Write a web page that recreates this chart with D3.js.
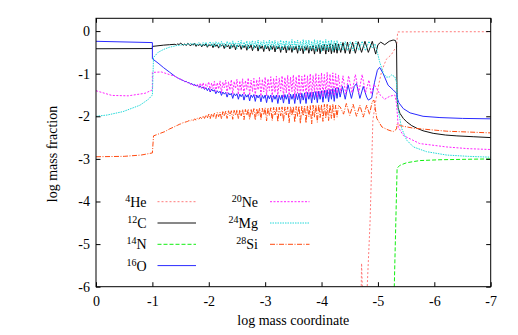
<!DOCTYPE html>
<html>
<head>
<meta charset="utf-8">
<script src="https://cdn.jsdelivr.net/npm/d3@7"></script>
<style>
body { margin: 0; background: #fff; }
text { font-family: "Liberation Serif", "DejaVu Serif", serif; fill: #000; }
</style>
</head>
<body>
<svg width="518" height="335"></svg>
<script>
// shared mass-coordinate grid for the noisy envelope zone (-1.4 .. -4.3)
var gridX = [-1.400,-1.425,-1.450,-1.475,-1.500,-1.525,-1.550,-1.575,-1.600,-1.625,
  -1.650,-1.675,-1.700,-1.725,-1.750,-1.775,-1.800,-1.825,-1.850,-1.875,
  -1.900,-1.925,-1.950,-1.975,-2.000,-2.025,-2.050,-2.075,-2.100,-2.125,
  -2.150,-2.175,-2.200,-2.225,-2.250,-2.275,-2.300,-2.325,-2.350,-2.375,
  -2.400,-2.425,-2.450,-2.475,-2.500,-2.525,-2.550,-2.575,-2.600,-2.625,
  -2.650,-2.675,-2.700,-2.725,-2.750,-2.775,-2.800,-2.825,-2.850,-2.875,
  -2.900,-2.925,-2.950,-2.975,-3.000,-3.025,-3.050,-3.075,-3.100,-3.125,
  -3.150,-3.175,-3.200,-3.225,-3.250,-3.275,-3.300,-3.325,-3.350,-3.375,
  -3.400,-3.425,-3.450,-3.475,-3.500,-3.525,-3.550,-3.575,-3.600,-3.625,
  -3.650,-3.675,-3.700,-3.725,-3.750,-3.775,-3.800,-3.825,-3.850,-3.875,
  -3.900,-3.925,-3.950,-3.975,-4.000,-4.025,-4.050,-4.075,-4.100,-4.125,
  -4.150,-4.175,-4.200,-4.225,-4.250,-4.275,-4.300];

var xTicks = [0,-1,-2,-3,-4,-5,-6,-7];
var yTicks = [0,-1,-2,-3,-4,-5,-6];

var heliumPts = [[-4.60,-7.0],[-4.70,-6.3],[-4.71,-5.45],[-4.73,-6.3],[-4.77,-7.0],[-4.80,-6.3],
  [-4.86,-4.5],[-4.89,-3.1],[-4.91,-2.1],[-4.95,-1.73],[-5.00,-1.34],[-5.07,-0.92],[-5.15,-0.66],
  [-5.24,-0.55],[-5.30,-0.42],[-5.33,-0.38],[-5.35,-0.02],[-6.0,-0.015],[-7.0,-0.015]];

var carbonHead = [[0,-0.415],[-1.0,-0.41],[-1.0,-0.36],[-1.2,-0.33],[-1.3,-0.32]];
var carbonNoise = [-0.31,-0.33,-0.30,-0.32,-0.28,-0.31,-0.33,-0.30,-0.34,-0.29,
  -0.31,-0.35,-0.30,-0.33,-0.29,-0.36,-0.31,-0.34,-0.30,-0.37,
  -0.31,-0.35,-0.30,-0.38,-0.32,-0.34,-0.31,-0.39,-0.30,-0.36,
  -0.32,-0.40,-0.31,-0.35,-0.32,-0.41,-0.31,-0.37,-0.33,-0.42,
  -0.32,-0.38,-0.31,-0.44,-0.33,-0.37,-0.32,-0.43,-0.33,-0.39,
  -0.32,-0.45,-0.33,-0.40,-0.32,-0.46,-0.34,-0.39,-0.33,-0.47,
  -0.33,-0.41,-0.34,-0.48,-0.33,-0.42,-0.35,-0.47,-0.34,-0.43,
  -0.33,-0.49,-0.35,-0.42,-0.34,-0.50,-0.35,-0.44,-0.34,-0.51,
  -0.35,-0.45,-0.34,-0.50,-0.36,-0.44,-0.35,-0.52,-0.34,-0.46,
  -0.35,-0.53,-0.36,-0.45,-0.34,-0.52,-0.35,-0.47,-0.33,-0.54,
  -0.34,-0.48,-0.32,-0.53,-0.34,-0.46,-0.31,-0.54,-0.33,-0.49,
  -0.30,-0.53,-0.32,-0.50,-0.29,-0.52,-0.30];
var carbonTail = [[-4.34,-0.50],[-4.38,-0.27],[-4.42,-0.52],[-4.46,-0.26],[-4.50,-0.53],[-4.55,-0.26],
  [-4.60,-0.52],[-4.65,-0.25],[-4.71,-0.50],[-4.77,-0.24],[-4.83,-0.50],[-4.90,-0.24],[-4.96,-0.54],
  [-5.00,-0.32],[-5.05,-0.26],[-5.12,-0.32],[-5.20,-0.24],[-5.27,-0.21],[-5.31,-0.22],[-5.33,-0.30],
  [-5.34,-1.60],[-5.36,-1.81],[-5.39,-1.93],[-5.45,-2.05],[-5.51,-2.13],[-5.60,-2.22],[-5.69,-2.28],
  [-5.80,-2.34],[-5.98,-2.40],[-6.20,-2.44],[-6.40,-2.46],[-6.70,-2.48],[-7.0,-2.50]];

var nitrogenPts = [[-5.28,-7.0],[-5.29,-6.0],[-5.34,-3.22],[-5.39,-3.15],[-5.51,-3.09],
  [-5.74,-3.04],[-6.10,-3.02],[-7.0,-3.00]];

var oxygenHead = [[0,-0.24],[-1.0,-0.27],[-1.0,-0.65],[-1.1,-0.75],[-1.2,-0.86],[-1.3,-0.96]];
var oxygenNoise = [-1.06,-1.08,-1.10,-1.12,-1.13,-1.15,-1.16,-1.19,-1.18,-1.21,
  -1.21,-1.24,-1.23,-1.27,-1.25,-1.29,-1.27,-1.32,-1.29,-1.34,
  -1.31,-1.37,-1.33,-1.40,-1.34,-1.43,-1.36,-1.41,-1.38,-1.47,
  -1.40,-1.45,-1.41,-1.51,-1.43,-1.48,-1.44,-1.55,-1.45,-1.50,
  -1.46,-1.58,-1.47,-1.52,-1.47,-1.60,-1.48,-1.54,-1.48,-1.62,
  -1.49,-1.55,-1.49,-1.64,-1.50,-1.56,-1.49,-1.65,-1.50,-1.57,
  -1.50,-1.66,-1.51,-1.58,-1.50,-1.68,-1.51,-1.59,-1.50,-1.67,
  -1.51,-1.60,-1.50,-1.70,-1.51,-1.61,-1.50,-1.69,-1.49,-1.60,
  -1.49,-1.71,-1.48,-1.60,-1.48,-1.70,-1.47,-1.61,-1.46,-1.70,
  -1.46,-1.62,-1.45,-1.70,-1.44,-1.60,-1.44,-1.69,-1.43,-1.61,
  -1.42,-1.68,-1.41,-1.60,-1.40,-1.67,-1.39,-1.58,-1.38,-1.66,
  -1.37,-1.60,-1.35,-1.65,-1.34,-1.58,-1.33];
var oxygenTail = [[-4.33,-1.55],[-4.37,-1.30],[-4.42,-1.60],[-4.47,-1.26],[-4.53,-1.58],[-4.58,-1.30],
  [-4.62,-1.23],[-4.68,-1.58],[-4.74,-1.30],[-4.80,-1.55],[-4.83,-1.62],[-4.89,-1.57],[-4.94,-1.20],
  [-4.99,-0.92],[-5.03,-0.85],[-5.09,-0.99],[-5.18,-1.27],[-5.27,-1.38],[-5.33,-1.46],[-5.35,-1.60],
  [-5.37,-1.68],[-5.45,-1.82],[-5.57,-1.92],[-5.80,-2.00],[-6.10,-2.03],[-6.50,-2.05],[-7.0,-2.06]];

var neonHead = [[0,-1.40],[-0.28,-1.51],[-0.57,-1.52],[-0.87,-1.46],[-1.0,-1.38],[-1.0,-0.97],
  [-1.16,-0.96],[-1.30,-1.02]];
var neonNoise = [-1.06,-1.08,-1.10,-1.12,-1.13,-1.15,-1.16,-1.18,-1.19,-1.21,
  -1.22,-1.24,-1.25,-1.27,-1.28,-1.29,-1.25,-1.32,-1.22,-1.34,
  -1.21,-1.37,-1.24,-1.30,-1.19,-1.40,-1.22,-1.35,-1.18,-1.42,
  -1.21,-1.36,-1.17,-1.45,-1.20,-1.33,-1.15,-1.46,-1.19,-1.38,
  -1.14,-1.48,-1.18,-1.35,-1.13,-1.49,-1.17,-1.40,-1.12,-1.50,
  -1.16,-1.37,-1.10,-1.51,-1.15,-1.42,-1.11,-1.52,-1.14,-1.38,
  -1.09,-1.53,-1.13,-1.43,-1.08,-1.52,-1.12,-1.40,-1.07,-1.55,
  -1.11,-1.44,-1.06,-1.54,-1.10,-1.41,-1.05,-1.56,-1.09,-1.45,
  -1.04,-1.55,-1.08,-1.42,-1.03,-1.57,-1.07,-1.46,-1.02,-1.55,
  -1.06,-1.43,-1.01,-1.57,-1.05,-1.47,-1.00,-1.54,-1.04,-1.44,
  -0.99,-1.56,-1.03,-1.48,-0.98,-1.55,-1.02,-1.45,-0.97,-1.53,
  -1.01,-1.47,-0.98,-1.52,-1.00,-1.46,-1.03];
var neonTail = [[-4.34,-1.45],[-4.38,-1.05],[-4.43,-1.48],[-4.48,-1.05],[-4.54,-1.45],[-4.60,-1.02],
  [-4.66,-1.45],[-4.72,-1.02],[-4.78,-1.45],[-4.84,-1.15],[-4.88,-1.48],[-4.93,-1.25],[-4.98,-1.35],
  [-5.04,-1.50],[-5.12,-1.60],[-5.21,-1.53],[-5.30,-1.50],[-5.33,-1.70],[-5.36,-2.25],[-5.45,-2.45],
  [-5.74,-2.64],[-6.22,-2.72],[-6.60,-2.76],[-7.0,-2.78]];

var magnesiumHead = [[0,-2.0],[-0.2,-1.97],[-0.48,-1.89],[-0.78,-1.74],[-0.93,-1.60],[-1.0,-1.50],
  [-1.02,-0.62],[-1.1,-0.50],[-1.2,-0.43],[-1.3,-0.38]];
var magnesiumNoise = [-0.35,-0.34,-0.34,-0.33,-0.33,-0.32,-0.32,-0.31,-0.32,-0.30,
  -0.31,-0.29,-0.33,-0.28,-0.32,-0.29,-0.34,-0.27,-0.31,-0.35,
  -0.27,-0.33,-0.26,-0.36,-0.29,-0.25,-0.35,-0.27,-0.37,-0.25,
  -0.33,-0.26,-0.38,-0.24,-0.34,-0.28,-0.39,-0.24,-0.33,-0.26,
  -0.40,-0.23,-0.35,-0.27,-0.41,-0.24,-0.34,-0.22,-0.40,-0.26,
  -0.36,-0.23,-0.42,-0.25,-0.34,-0.22,-0.41,-0.24,-0.37,-0.21,
  -0.43,-0.25,-0.35,-0.22,-0.42,-0.24,-0.38,-0.21,-0.44,-0.23,
  -0.36,-0.22,-0.43,-0.25,-0.39,-0.21,-0.45,-0.23,-0.37,-0.22,
  -0.44,-0.24,-0.40,-0.20,-0.46,-0.23,-0.38,-0.21,-0.45,-0.24,
  -0.41,-0.20,-0.47,-0.22,-0.39,-0.21,-0.46,-0.24,-0.42,-0.20,
  -0.47,-0.22,-0.40,-0.21,-0.48,-0.23,-0.43,-0.20,-0.46,-0.22,
  -0.41,-0.21,-0.47,-0.23,-0.44,-0.22,-0.46];
var magnesiumTail = [[-4.34,-0.26],[-4.38,-0.45],[-4.42,-0.25],[-4.46,-0.46],[-4.51,-0.25],[-4.56,-0.46],
  [-4.61,-0.24],[-4.66,-0.45],[-4.72,-0.24],[-4.78,-0.46],[-4.84,-0.24],[-4.90,-0.40],[-4.95,-0.30],
  [-4.99,-0.50],[-5.03,-0.72],[-5.10,-1.00],[-5.15,-1.08],[-5.20,-1.08],[-5.24,-1.03],[-5.30,-1.07],
  [-5.33,-1.20],[-5.34,-1.54],[-5.36,-1.85],[-5.42,-2.28],[-5.51,-2.56],[-5.63,-2.72],[-5.86,-2.83],
  [-6.22,-2.91],[-6.60,-2.94],[-7.0,-2.96]];

var siliconHead = [[0,-2.95],[-0.5,-2.94],[-0.8,-2.91],[-1.0,-2.86],[-1.02,-2.46],[-1.22,-2.36],[-1.30,-2.30]];
var siliconNoise = [-2.24,-2.22,-2.21,-2.19,-2.18,-2.16,-2.15,-2.14,-2.13,-2.12,
  -2.10,-2.11,-2.08,-2.10,-2.06,-2.09,-2.04,-2.07,-2.02,-2.06,
  -1.99,-2.05,-1.97,-2.04,-1.95,-2.06,-1.94,-2.02,-1.93,-2.05,
  -1.91,-2.01,-1.90,-2.06,-1.89,-2.00,-1.88,-2.05,-1.87,-1.99,
  -1.87,-2.07,-1.86,-1.98,-1.85,-2.06,-1.85,-1.99,-1.84,-2.08,
  -1.84,-1.98,-1.83,-2.07,-1.83,-1.97,-1.82,-2.09,-1.82,-1.98,
  -1.81,-2.08,-1.81,-1.97,-1.80,-2.11,-1.80,-1.98,-1.80,-2.10,
  -1.79,-1.97,-1.79,-2.13,-1.79,-1.99,-1.78,-2.12,-1.78,-1.97,
  -1.78,-2.15,-1.77,-1.98,-1.77,-2.14,-1.77,-2.00,-1.76,-2.17,
  -1.76,-1.99,-1.76,-2.16,-1.75,-2.01,-1.75,-2.18,-1.74,-2.02,
  -1.74,-2.14,-1.73,-2.03,-1.73,-2.12,-1.72,-2.04,-1.72,-2.10,
  -1.73,-2.05,-1.72,-2.09,-1.74,-2.02,-1.75];
var siliconTail = [[-4.33,-1.78],[-4.39,-1.95],[-4.44,-1.70],[-4.50,-1.98],[-4.56,-1.72],[-4.62,-2.00],
  [-4.68,-1.74],[-4.74,-2.02],[-4.80,-1.74],[-4.85,-1.95],[-4.90,-1.65],[-4.93,-1.62],[-4.98,-2.05],
  [-5.07,-2.25],[-5.18,-2.32],[-5.27,-2.36],[-5.33,-2.30],[-5.34,-2.18],[-5.40,-2.22],[-5.63,-2.28],
  [-6.22,-2.35],[-7.0,-2.39]];

function withGrid(head, noise, tail) {
  return head.concat(gridX.map(function (x, i) { return [x, noise[i]]; }), tail);
}

// plot order = legend order, like gnuplot
var species = [
  {iso: "4",  sym: "He", color: "#ff7a7a", dash: "2,2",   pts: heliumPts},
  {iso: "12", sym: "C",  color: "#111111", dash: null,    pts: withGrid(carbonHead, carbonNoise, carbonTail)},
  {iso: "14", sym: "N",  color: "#11ee11", dash: "4,2",   pts: nitrogenPts},
  {iso: "16", sym: "O",  color: "#2a2aff", dash: null,    pts: withGrid(oxygenHead, oxygenNoise, oxygenTail)},
  {iso: "20", sym: "Ne", color: "#ff22ff", dash: "2,1.5", pts: withGrid(neonHead, neonNoise, neonTail)},
  {iso: "24", sym: "Mg", color: "#22d8d8", dash: "1.5,1", pts: withGrid(magnesiumHead, magnesiumNoise, magnesiumTail)},
  {iso: "28", sym: "Si", color: "#ff4a10", dash: "5,1.5,1,1.5", pts: withGrid(siliconHead, siliconNoise, siliconTail)}
];

var svg = d3.select("svg");
// note: "top" is taken by window.top, so plot edges get their own names
var plotL = 96, plotR = 490.7, plotT = 18.3, plotB = 286.7;

var x = d3.scaleLinear().domain([0, -7]).range([plotL, plotR]);
var y = d3.scaleLinear().domain([-6, 0.3]).range([plotB, plotT]);

svg.append("defs").append("clipPath").attr("id", "plotclip")
  .append("rect")
  .attr("x", plotL).attr("y", plotT)
  .attr("width", plotR - plotL).attr("height", plotB - plotT);

var line = d3.line()
  .x(function (d) { return x(d[0]); })
  .y(function (d) { return y(d[1]); });

svg.append("g")
  .attr("clip-path", "url(#plotclip)")
  .selectAll("path")
  .data(species)
  .enter()
  .append("path")
  .attr("d", function (d) { return line(d.pts); })
  .attr("fill", "none")
  .attr("stroke", function (d) { return d.color; })
  .attr("stroke-width", 1)
  .attr("stroke-dasharray", function (d) { return d.dash; });

// axes, ticks pointing inward on all four sides
var fmt = function (d) { return String(d); };
var ax = svg.append("g").attr("class", "axes");

ax.append("g").attr("transform", "translate(0," + plotB + ")")
  .call(d3.axisBottom(x).tickValues(xTicks).tickSize(-4.5).tickPadding(9).tickFormat(fmt));
ax.append("g").attr("transform", "translate(0," + plotT + ")")
  .call(d3.axisTop(x).tickValues(xTicks).tickSize(-4.5).tickFormat(""));
ax.append("g").attr("transform", "translate(" + plotL + ",0)")
  .call(d3.axisLeft(y).tickValues(yTicks).tickSize(-4.5).tickPadding(6).tickFormat(fmt));
ax.append("g").attr("transform", "translate(" + plotR + ",0)")
  .call(d3.axisRight(y).tickValues(yTicks).tickSize(-4.5).tickFormat(""));

ax.selectAll(".domain").remove();
ax.selectAll(".tick line").attr("stroke", "#000");
ax.selectAll(".tick text")
  .attr("font-family", "Liberation Serif, DejaVu Serif, serif")
  .attr("font-size", 14)
  .attr("fill", "#000");

svg.append("rect")
  .attr("x", plotL).attr("y", plotT)
  .attr("width", plotR - plotL).attr("height", plotB - plotT)
  .attr("fill", "none")
  .attr("stroke", "#000")
  .attr("stroke-width", 1);

svg.append("text")
  .attr("x", (plotL + plotR) / 2).attr("y", 325)
  .attr("text-anchor", "middle")
  .attr("font-size", 14)
  .text("log mass coordinate");

svg.append("text")
  .attr("transform", "translate(57,154) rotate(-90)")
  .attr("text-anchor", "middle")
  .attr("font-size", 14)
  .text("log mass fraction");

// legend: two columns, label right aligned, then a line sample
var legCols = [{textX: 146.5, lineX1: 157.5, lineX2: 196}, {textX: 258, lineX1: 270, lineX2: 309.5}];
var legRows = [201.7, 223, 244.3, 265.6];

var leg = svg.append("g").selectAll("g")
  .data(species)
  .enter()
  .append("g")
  .attr("transform", function (d, i) {
    return "translate(0," + legRows[i < 4 ? i : i - 4] + ")";
  });

leg.append("text")
  .attr("x", function (d, i) { return legCols[i < 4 ? 0 : 1].textX; })
  .attr("y", 5)
  .attr("text-anchor", "end")
  .attr("font-size", 14)
  .each(function (d) {
    var t = d3.select(this);
    t.append("tspan").attr("font-size", 10).attr("dy", -5).text(d.iso);
    t.append("tspan").attr("dy", 5).text(d.sym);
  });

leg.append("line")
  .attr("x1", function (d, i) { return legCols[i < 4 ? 0 : 1].lineX1; })
  .attr("x2", function (d, i) { return legCols[i < 4 ? 0 : 1].lineX2; })
  .attr("y1", 0).attr("y2", 0)
  .attr("stroke", function (d) { return d.color; })
  .attr("stroke-width", 1)
  .attr("stroke-dasharray", function (d) { return d.dash; });
</script>
</body>
</html>
